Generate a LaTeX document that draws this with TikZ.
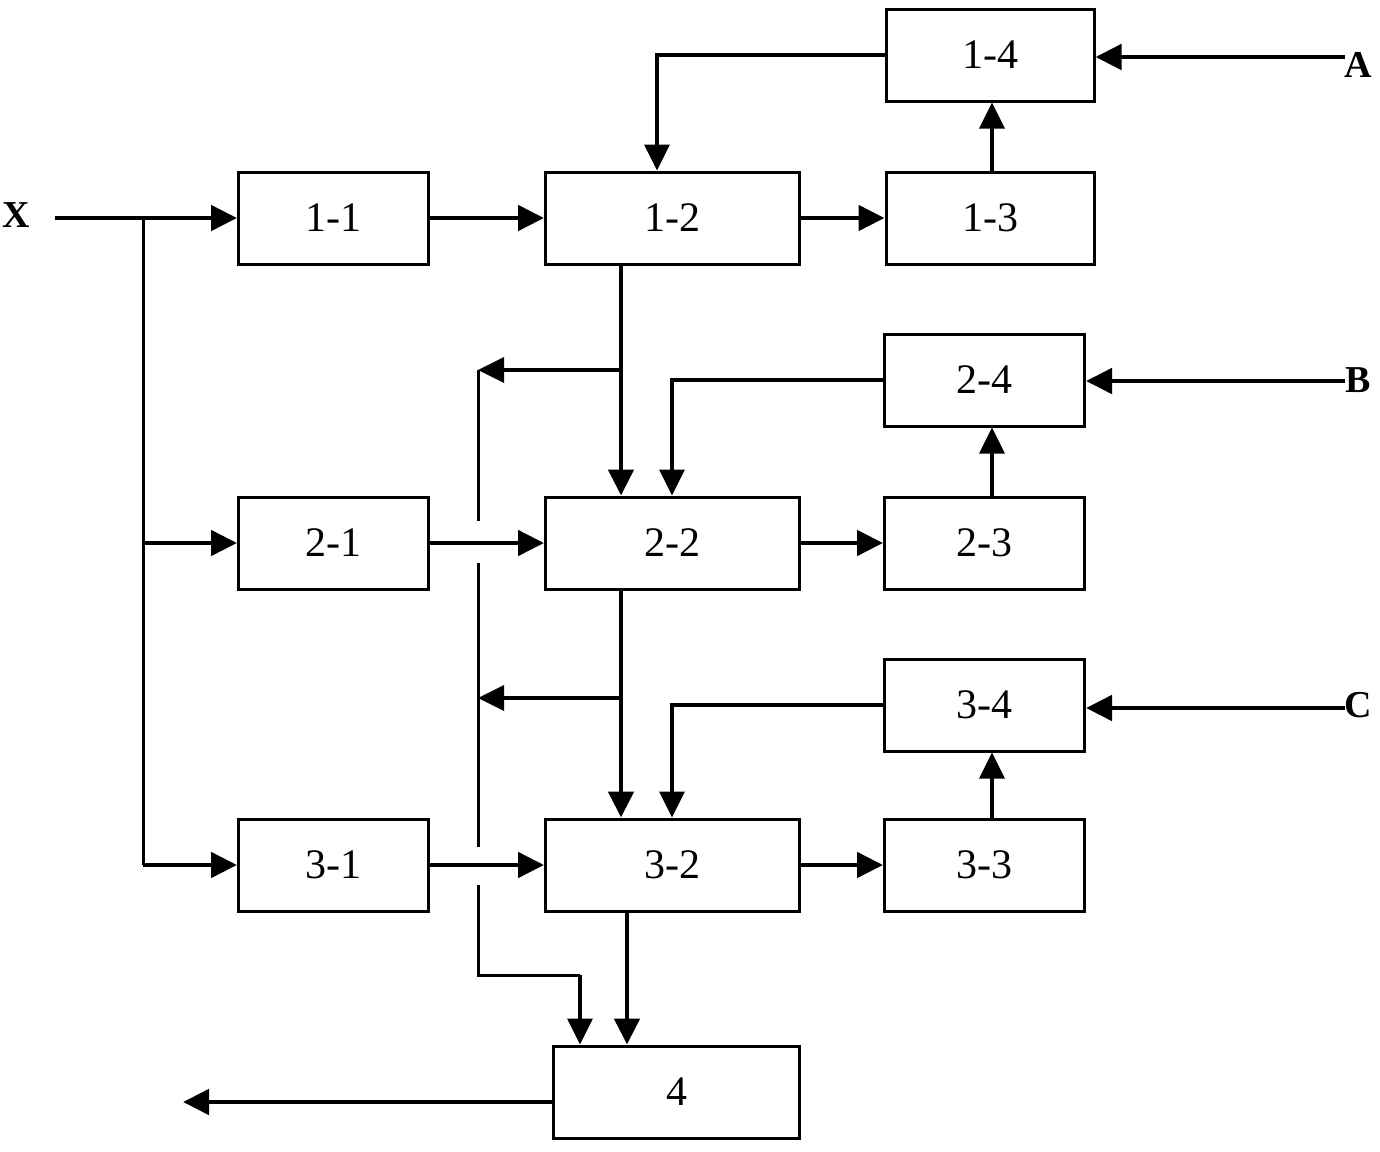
\documentclass[tikz,border=0pt]{standalone}
\usepackage{fontspec}
\setmainfont{Liberation Serif}
\usetikzlibrary{arrows.meta}
\tikzset{
  box/.style={draw=black, line width=1.5pt, minimum height=46pt, inner sep=0pt, font=\fontsize{21}{24}\selectfont},
  arr/.style={draw=black, line width=2.4pt, -{Triangle[length=13pt,width=12.5pt]}},
  arrt/.style={draw=black, line width=1.7pt, -{Triangle[length=13pt,width=12.5pt]}},
  wire/.style={draw=black, line width=1.5pt},
  lab/.style={font=\bfseries\fontsize{19}{22}\selectfont},
}
\begin{document}
\begin{tikzpicture}[x=0.5pt,y=-0.5pt]
  \useasboundingbox (0,0) rectangle (1380,1151);
  % blocks
  \node[box,minimum width=95pt]  (b11) at (333.5,218) {1-1};
  \node[box,minimum width=127pt] (b12) at (672.5,218) {1-2};
  \node[box,minimum width=104pt] (b13) at (990,218) {1-3};
  \node[box,minimum width=104pt] (b14) at (990,55) {1-4};
  \node[box,minimum width=95pt]  (b21) at (333.5,543) {2-1};
  \node[box,minimum width=127pt] (b22) at (672.5,543) {2-2};
  \node[box,minimum width=100pt] (b23) at (984.5,543) {2-3};
  \node[box,minimum width=100pt] (b24) at (984.5,380) {2-4};
  \node[box,minimum width=95pt]  (b31) at (333.5,865) {3-1};
  \node[box,minimum width=127pt] (b32) at (672.5,865) {3-2};
  \node[box,minimum width=100pt] (b33) at (984.5,865) {3-3};
  \node[box,minimum width=100pt] (b34) at (984.5,705) {3-4};
  \node[box,minimum width=123pt] (b4)  at (676.5,1092) {4};
  % inputs
  \node[lab] (X) at (16,215) {X};
  \node[lab] (A) at (1358,65) {A};
  \node[lab] (B) at (1358,380) {B};
  \node[lab] (C) at (1358,705) {C};
  \coordinate (x0) at (55,218);
  \coordinate (xs) at (143,218);
  \coordinate (a0) at (1345,57);
  \coordinate (bb0) at (1345,381);
  \coordinate (c0) at (1345,708);
  \coordinate (out) at (183,1102);
  % columns
  \coordinate (v1) at (621,0);
  \coordinate (v2) at (627,0);
  \coordinate (f1) at (657,0);
  \coordinate (f2) at (672,0);
  \coordinate (u) at (992,0);
  \coordinate (s1) at (478,370);
  \coordinate (s2) at (478,698);
  \coordinate (s3) at (478,975);
  \coordinate (s4) at (580,975);
  % X fan-out
  \draw[arr] (x0) -- (b11);
  \draw[wire] (xs) -- (xs |- b31);
  \draw[arr] (xs |- b21) -- (b21);
  \draw[arr] (xs |- b31) -- (b31);
  % rows
  \draw[arr] (b11) -- (b12);
  \draw[arr] (b12) -- (b13);
  \draw[arr] (b21) -- (b22);
  \draw[arr] (b22) -- (b23);
  \draw[arr] (b31) -- (b32);
  \draw[arr] (b32) -- (b33);
  % upward and feedback
  \draw[arrt] (u |- b13.north) -- (u |- b14.south);
  \draw[arrt] (u |- b23.north) -- (u |- b24.south);
  \draw[arrt] (u |- b33.north) -- (u |- b34.south);
  \draw[arrt] (b14.west) -| (f1 |- b12.north);
  \draw[arrt] (b24.west) -| (f2 |- b22.north);
  \draw[arrt] (b34.west) -| (f2 |- b32.north);
  \draw[arr] (a0) -- (a0 -| b14.east);
  \draw[arr] (bb0) -- (bb0 -| b24.east);
  \draw[arr] (c0) -- (c0 -| b34.east);
  % downward
  \draw[arr] (v1 |- b12.south) -- (v1 |- b22.north);
  \draw[arr] (v1 |- b22.south) -- (v1 |- b32.north);
  \draw[arr] (v2 |- b32.south) -- (v2 |- b4.north);
  \draw[arrt] (v1 |- s1) -- (s1);
  \draw[arrt] (v1 |- s2) -- (s2);
  \draw[wire] (s1) -- ([yshift=11pt]s1 |- b21);
  \draw[wire] ([yshift=-10pt]s1 |- b21) -- ([yshift=9pt]s1 |- b31);
  \draw[wire] ([yshift=-10pt]s1 |- b31) -- (s3) -- (s4);
  \draw[arrt] (s4) -- (s4 |- b4.north);
  \draw[arr] (b4.west |- out) -- (out);
\end{tikzpicture}
\end{document}
